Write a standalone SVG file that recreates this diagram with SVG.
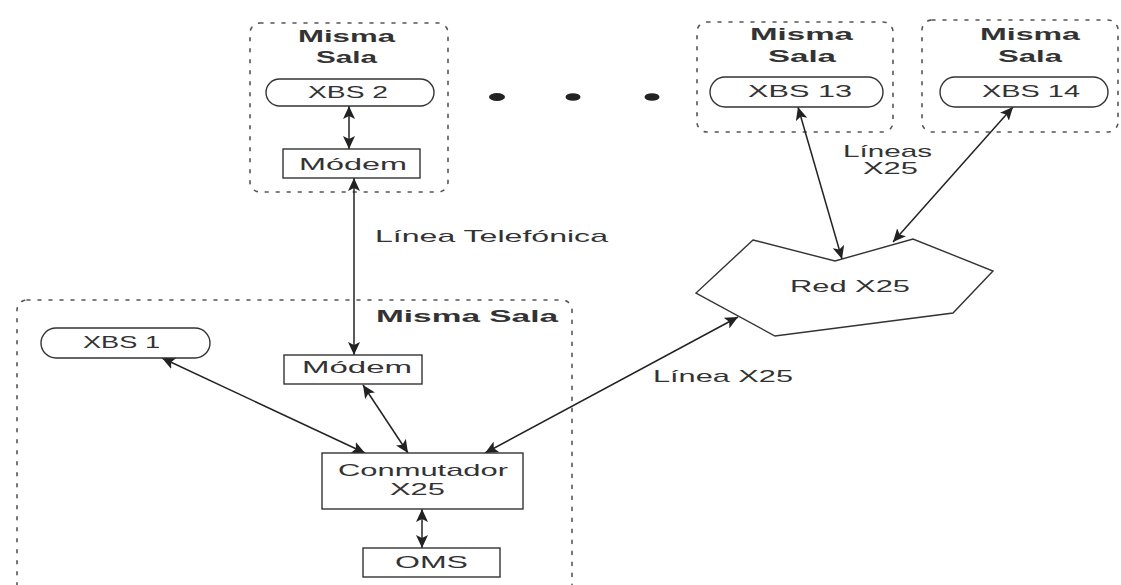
<svg xmlns="http://www.w3.org/2000/svg" width="1121" height="585" viewBox="0 0 1121 585">
<defs>
<marker id="ah" viewBox="0 0 13 12" refX="13" refY="6" markerWidth="13" markerHeight="12" markerUnits="userSpaceOnUse" orient="auto-start-reverse">
<path d="M0,0 L13,6 L0,12 L3,6 z" fill="#222"/>
</marker>
<style>
.room{fill:none;stroke:#555;stroke-width:1.6;stroke-dasharray:3 8;stroke-linecap:round}
.node{fill:#fff;stroke:#333;stroke-width:1.4}
.t{font-family:"Liberation Sans",Arial,sans-serif;font-size:17px;fill:#333}
.b{font-family:"Liberation Sans",Arial,sans-serif;font-size:17px;font-weight:bold;fill:#333}
.c{fill:none;stroke:#222;stroke-width:1.5;marker-start:url(#ah);marker-end:url(#ah)}
.dot{fill:#222}
</style>
</defs>
<rect width="1121" height="585" fill="#fff"/>

<g id="room-xbs2">
<rect class="room" x="250" y="23" width="198" height="169" rx="10"/>
<text class="b" x="298" y="42" textLength="97" lengthAdjust="spacingAndGlyphs">Misma</text>
<text class="b" x="316" y="63" textLength="61" lengthAdjust="spacingAndGlyphs">Sala</text>
</g>
<g id="room-xbs13">
<rect class="room" x="697" y="22" width="196" height="110" rx="10"/>
<text class="b" x="750" y="40" textLength="103" lengthAdjust="spacingAndGlyphs">Misma</text>
<text class="b" x="768" y="62" textLength="68" lengthAdjust="spacingAndGlyphs">Sala</text>
</g>
<g id="room-xbs14">
<rect class="room" x="922" y="20" width="196" height="112" rx="10"/>
<text class="b" x="980" y="40" textLength="100" lengthAdjust="spacingAndGlyphs">Misma</text>
<text class="b" x="998" y="62" textLength="64" lengthAdjust="spacingAndGlyphs">Sala</text>
</g>
<g id="room-main">
<rect class="room" x="17" y="300" width="555" height="320" rx="10"/>
<text class="b" x="376" y="322" textLength="182" lengthAdjust="spacingAndGlyphs">Misma Sala</text>
</g>

<g id="connectors">
<line class="c" x1="349" y1="106" x2="349" y2="149"/>
<line class="c" x1="354" y1="178" x2="354" y2="355"/>
<line class="c" x1="162" y1="358" x2="365" y2="453"/>
<line class="c" x1="363" y1="385" x2="408" y2="453"/>
<line class="c" x1="485" y1="453" x2="738" y2="317"/>
<line class="c" x1="422" y1="509" x2="422" y2="548"/>
<line class="c" x1="798" y1="107" x2="842" y2="259"/>
<line class="c" x1="1013" y1="107" x2="893" y2="242"/>
<text class="t" x="375" y="242" textLength="233" lengthAdjust="spacingAndGlyphs">Línea Telefónica</text>
<text class="t" x="653" y="382" textLength="140" lengthAdjust="spacingAndGlyphs">Línea X25</text>
<text class="t" x="843" y="157" textLength="89" lengthAdjust="spacingAndGlyphs">Líneas</text>
<text class="t" x="863" y="174" textLength="55" lengthAdjust="spacingAndGlyphs">X25</text>
</g>

<g id="xbs2">
<rect class="node" x="266" y="79" width="168" height="27" rx="13.5"/>
<text class="t" x="308" y="98" textLength="80" lengthAdjust="spacingAndGlyphs">XBS 2</text>
</g>
<g id="modem-remote">
<rect class="node" x="283" y="149" width="137" height="29"/>
<text class="t" x="299" y="170" textLength="108" lengthAdjust="spacingAndGlyphs">Módem</text>
</g>
<g id="ellipsis">
<ellipse class="dot" cx="497" cy="97" rx="8" ry="4"/>
<ellipse class="dot" cx="573" cy="97" rx="7.5" ry="3.8"/>
<ellipse class="dot" cx="652" cy="97" rx="7.5" ry="3.8"/>
</g>
<g id="xbs13">
<rect class="node" x="710" y="77" width="173" height="30" rx="15"/>
<text class="t" x="748" y="97" textLength="104" lengthAdjust="spacingAndGlyphs">XBS 13</text>
</g>
<g id="xbs14">
<rect class="node" x="940" y="77" width="168" height="30" rx="15"/>
<text class="t" x="982" y="97" textLength="98" lengthAdjust="spacingAndGlyphs">XBS 14</text>
</g>
<g id="red-x25">
<polygon class="node" points="753,240 835,261 913,239 993,271 953,313 775,336 696,293"/>
<text class="t" x="790" y="292" textLength="120" lengthAdjust="spacingAndGlyphs">Red X25</text>
</g>
<g id="xbs1">
<rect class="node" x="41" y="328" width="169" height="30" rx="15"/>
<text class="t" x="83" y="348" textLength="77" lengthAdjust="spacingAndGlyphs">XBS 1</text>
</g>
<g id="modem-local">
<rect class="node" x="284" y="355" width="138" height="29"/>
<text class="t" x="302" y="373" textLength="110" lengthAdjust="spacingAndGlyphs">Módem</text>
</g>
<g id="conmutador">
<rect class="node" x="322" y="453" width="201" height="56"/>
<text class="t" x="338" y="476" textLength="170" lengthAdjust="spacingAndGlyphs">Conmutador</text>
<text class="t" x="390" y="495" textLength="55" lengthAdjust="spacingAndGlyphs">X25</text>
</g>
<g id="oms">
<rect class="node" x="363" y="548" width="137" height="29"/>
<text class="t" x="395" y="568" textLength="73" lengthAdjust="spacingAndGlyphs">OMS</text>
</g>
</svg>
